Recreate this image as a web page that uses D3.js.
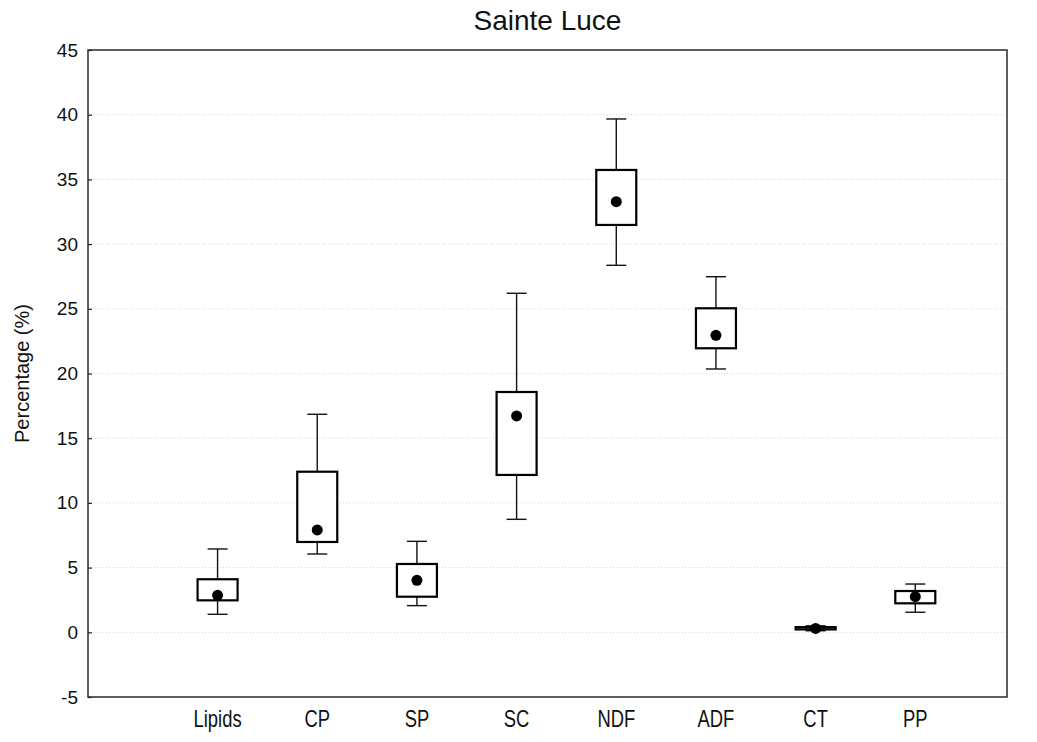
<!DOCTYPE html>
<html>
<head>
<meta charset="utf-8">
<script src="https://cdn.jsdelivr.net/npm/d3@7"></script>
<style>
  html, body { margin: 0; padding: 0; background: #fff; }
  svg { display: block; font-family: "Liberation Sans", Arial, sans-serif; }
</style>
</head>
<body>
<svg id="chart" width="1037" height="742"></svg>
<script>
// Composition of forage at Sainte Luce (%)
const categories = ["Lipids", "CP", "SP", "SC", "NDF", "ADF", "CT", "PP"];
const mins   = [1.39, 6.05, 2.06, 8.73, 28.36, 20.35, 0.12, 1.55];
const q1s    = [2.47, 6.98, 2.75, 12.16, 31.48, 21.95, 0.22, 2.24];
const means  = [2.86, 7.91, 4.02, 16.72, 33.28, 22.95, 0.30, 2.75];
const q3s    = [4.10, 12.41, 5.28, 18.57, 35.73, 25.04, 0.40, 3.19];
const maxs   = [6.44, 16.85, 7.03, 26.20, 39.67, 27.48, 0.50, 3.73];
const yTicks = [-5, 0, 5, 10, 15, 20, 25, 30, 35, 40, 45];

const rows = categories.map((c, i) => ({
  name: c, i, min: mins[i], q1: q1s[i], mean: means[i], q3: q3s[i], max: maxs[i]
}));

const svg = d3.select("#chart");
const plotLeft = 88, plotRight = 1007, plotTop = 50, plotBottom = 697;

const x = d3.scaleLinear().domain([-1.3, 7.92]).range([plotLeft, plotRight]);
const y = d3.scaleLinear().domain([-5, 45]).range([plotBottom, plotTop]);

// dotted grid lines
svg.append("g")
  .selectAll("line")
  .data(yTicks.filter(t => t > -5 && t < 45))
  .join("line")
  .attr("x1", plotLeft).attr("x2", plotRight)
  .attr("y1", d => y(d)).attr("y2", d => y(d))
  .attr("stroke", "#d4d4d4")
  .attr("stroke-width", 1)
  .attr("stroke-dasharray", "1,2");

// y axis with inward ticks
const yAxis = svg.append("g")
  .attr("transform", `translate(${plotLeft},0)`)
  .call(d3.axisLeft(y).tickValues(yTicks).tickSize(-4).tickPadding(10).tickFormat(d => String(d)));
yAxis.select(".domain").remove();
yAxis.selectAll(".tick line").attr("stroke", "#222").attr("stroke-width", 1.2);
yAxis.selectAll(".tick text")
  .attr("font-size", 19)
  .attr("fill", "#111")
  .attr("font-family", "'Liberation Sans', Arial, sans-serif");

// category labels (condensed lettering)
svg.append("g")
  .selectAll("text")
  .data(rows)
  .join("text")
  .attr("transform", d => `translate(${x(d.i)},727) scale(0.8,1)`)
  .attr("text-anchor", "middle")
  .attr("font-size", 23)
  .attr("fill", "#111")
  .text(d => d.name);

// boxes
const boxHalf = 20, capHalf = 10;
const g = svg.append("g");
const box = g.selectAll("g.box").data(rows).join("g").attr("class", "box");

box.append("line")
  .attr("x1", d => x(d.i)).attr("x2", d => x(d.i))
  .attr("y1", d => y(d.max)).attr("y2", d => y(d.q3))
  .attr("stroke", "#111").attr("stroke-width", 1.4);
box.append("line")
  .attr("x1", d => x(d.i)).attr("x2", d => x(d.i))
  .attr("y1", d => y(d.q1)).attr("y2", d => y(d.min))
  .attr("stroke", "#111").attr("stroke-width", 1.4);
box.append("line")
  .attr("x1", d => x(d.i) - capHalf).attr("x2", d => x(d.i) + capHalf)
  .attr("y1", d => y(d.max)).attr("y2", d => y(d.max))
  .attr("stroke", "#111").attr("stroke-width", 1.4);
box.append("line")
  .attr("x1", d => x(d.i) - capHalf).attr("x2", d => x(d.i) + capHalf)
  .attr("y1", d => y(d.min)).attr("y2", d => y(d.min))
  .attr("stroke", "#111").attr("stroke-width", 1.4);
box.append("rect")
  .attr("x", d => x(d.i) - boxHalf)
  .attr("width", boxHalf * 2)
  .attr("y", d => y(d.q3))
  .attr("height", d => Math.max(y(d.q1) - y(d.q3), 1))
  .attr("fill", "#fff")
  .attr("stroke", "#000")
  .attr("stroke-width", 2.2);
box.append("circle")
  .attr("cx", d => x(d.i))
  .attr("cy", d => y(d.mean))
  .attr("r", 5.5)
  .attr("fill", "#000");

// frame
svg.append("rect")
  .attr("x", plotLeft).attr("y", plotTop)
  .attr("width", plotRight - plotLeft).attr("height", plotBottom - plotTop)
  .attr("fill", "none")
  .attr("stroke", "#2a2a2a")
  .attr("stroke-width", 1.5);

// title
svg.append("text")
  .attr("x", (plotLeft + plotRight) / 2)
  .attr("y", 30)
  .attr("text-anchor", "middle")
  .attr("font-size", 28)
  .attr("fill", "#111")
  .text("Sainte Luce");

// y axis title
svg.append("text")
  .attr("transform", `translate(29,${(plotTop + plotBottom) / 2}) rotate(-90)`)
  .attr("text-anchor", "middle")
  .attr("font-size", 20)
  .attr("fill", "#111")
  .text("Percentage (%)");
</script>
</body>
</html>
